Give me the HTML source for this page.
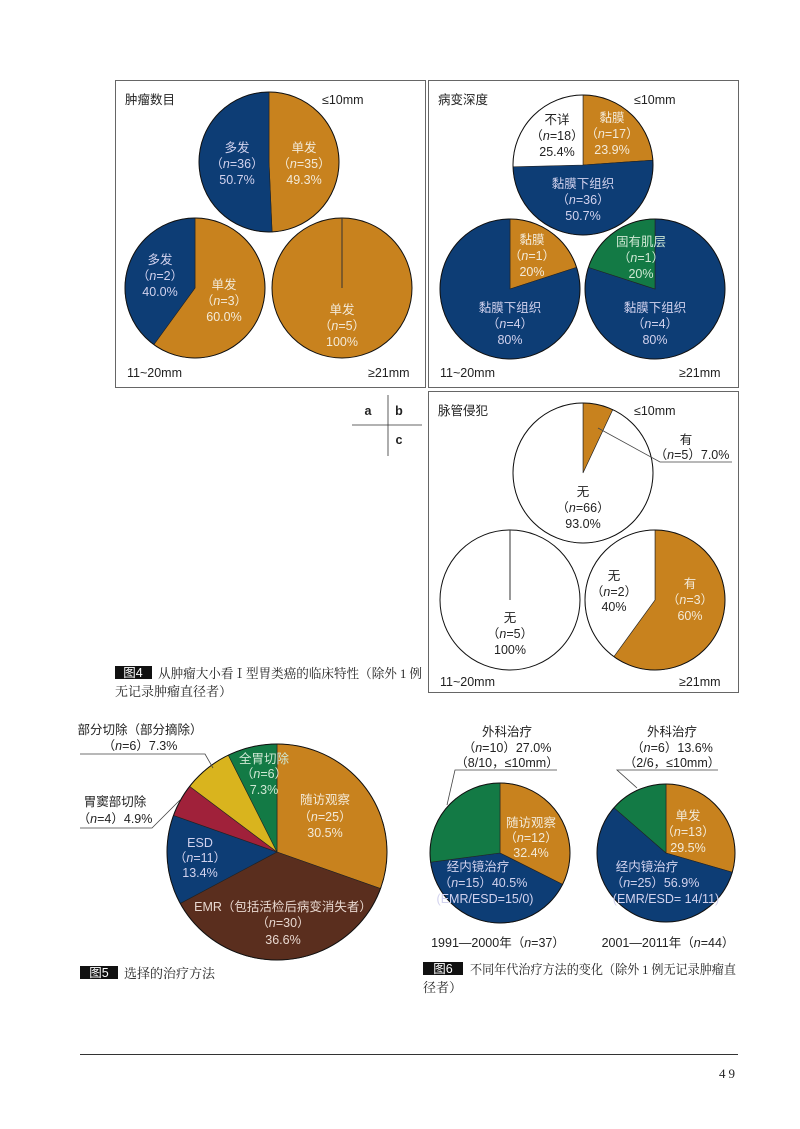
<!DOCTYPE html>
<html><head><meta charset="utf-8">
<style>
html,body{margin:0;padding:0;background:#fff;}
svg{display:block;}
text{font-family:"Liberation Sans","Noto Sans CJK SC",sans-serif;font-size:12.5px;}
.c{text-anchor:middle;}
.w{fill:#f3ead8;}
.l{fill:#d2d2ee;}
.k{fill:#222;}
.cap{font-family:"Liberation Serif","Noto Serif CJK SC",serif;font-size:13px;fill:#222;}
</style></head><body>
<svg id="s" width="800" height="1129" viewBox="0 0 800 1129" xmlns="http://www.w3.org/2000/svg">
<g id="pies"></g>
<rect x="115.5" y="80.5" width="310" height="307" fill="none" stroke="#666" stroke-width="1"/>
<rect x="428.5" y="80.5" width="310" height="307" fill="none" stroke="#666" stroke-width="1"/>
<rect x="428.5" y="391.5" width="310" height="301" fill="none" stroke="#666" stroke-width="1"/>

<text x="125" y="104" class="k" font-size="13">肿瘤数目</text>
<text x="322" y="104" class="k" font-size="13">≤10mm</text>
<text x="127" y="377" class="k" font-size="13">11~20mm</text>
<text x="368" y="377" class="k" font-size="13">≥21mm</text>
<text x="237" y="152" class="c l">多发</text>
<text x="237" y="168" class="c l">（<tspan font-style="italic">n</tspan>=36）</text>
<text x="237" y="184" class="c l">50.7%</text>
<text x="304" y="152" class="c w">单发</text>
<text x="304" y="168" class="c w">（<tspan font-style="italic">n</tspan>=35）</text>
<text x="304" y="184" class="c w">49.3%</text>
<text x="160" y="264" class="c l">多发</text>
<text x="160" y="280" class="c l">（<tspan font-style="italic">n</tspan>=2）</text>
<text x="160" y="296" class="c l">40.0%</text>
<text x="224" y="289" class="c w">单发</text>
<text x="224" y="305" class="c w">（<tspan font-style="italic">n</tspan>=3）</text>
<text x="224" y="321" class="c w">60.0%</text>
<text x="342" y="314" class="c w">单发</text>
<text x="342" y="330" class="c w">（<tspan font-style="italic">n</tspan>=5）</text>
<text x="342" y="346" class="c w">100%</text>

<text x="438" y="104" class="k" font-size="13">病变深度</text>
<text x="634" y="104" class="k" font-size="13">≤10mm</text>
<text x="440" y="377" class="k" font-size="13">11~20mm</text>
<text x="679" y="377" class="k" font-size="13">≥21mm</text>
<text x="557" y="124" class="c k">不详</text>
<text x="557" y="140" class="c k">（<tspan font-style="italic">n</tspan>=18）</text>
<text x="557" y="156" class="c k">25.4%</text>
<text x="612" y="122" class="c w">黏膜</text>
<text x="612" y="138" class="c w">（<tspan font-style="italic">n</tspan>=17）</text>
<text x="612" y="154" class="c w">23.9%</text>
<text x="583" y="188" class="c l">黏膜下组织</text>
<text x="583" y="204" class="c l">（<tspan font-style="italic">n</tspan>=36）</text>
<text x="583" y="220" class="c l">50.7%</text>
<text x="532" y="244" class="c w">黏膜</text>
<text x="532" y="260" class="c w">（<tspan font-style="italic">n</tspan>=1）</text>
<text x="532" y="276" class="c w">20%</text>
<text x="510" y="312" class="c l">黏膜下组织</text>
<text x="510" y="328" class="c l">（<tspan font-style="italic">n</tspan>=4）</text>
<text x="510" y="344" class="c l">80%</text>
<text x="641" y="246" class="c" fill="#cfe8d4">固有肌层</text>
<text x="641" y="262" class="c" fill="#cfe8d4">（<tspan font-style="italic">n</tspan>=1）</text>
<text x="641" y="278" class="c" fill="#cfe8d4">20%</text>
<text x="655" y="312" class="c l">黏膜下组织</text>
<text x="655" y="328" class="c l">（<tspan font-style="italic">n</tspan>=4）</text>
<text x="655" y="344" class="c l">80%</text>

<text x="438" y="415" class="k" font-size="13">脉管侵犯</text>
<text x="634" y="415" class="k" font-size="13">≤10mm</text>
<text x="440" y="686" class="k" font-size="13">11~20mm</text>
<text x="679" y="686" class="k" font-size="13">≥21mm</text>
<polyline points="598,428 660,462 732,462" fill="none" stroke="#444" stroke-width="0.8"/>
<text x="686" y="444" class="c k">有</text>
<text x="692" y="459" class="c k">（<tspan font-style="italic">n</tspan>=5）7.0%</text>
<text x="583" y="496" class="c k">无</text>
<text x="583" y="512" class="c k">（<tspan font-style="italic">n</tspan>=66）</text>
<text x="583" y="528" class="c k">93.0%</text>
<text x="510" y="622" class="c k">无</text>
<text x="510" y="638" class="c k">（<tspan font-style="italic">n</tspan>=5）</text>
<text x="510" y="654" class="c k">100%</text>
<text x="614" y="580" class="c k">无</text>
<text x="614" y="596" class="c k">（<tspan font-style="italic">n</tspan>=2）</text>
<text x="614" y="611" class="c k">40%</text>
<text x="690" y="588" class="c w">有</text>
<text x="690" y="604" class="c w">（<tspan font-style="italic">n</tspan>=3）</text>
<text x="690" y="620" class="c w">60%</text>

<line x1="388" y1="395" x2="388" y2="456" stroke="#333" stroke-width="0.8"/>
<line x1="352" y1="425" x2="422" y2="425" stroke="#333" stroke-width="0.8"/>
<text x="368" y="415" class="c k" font-size="10" font-weight="bold">a</text>
<text x="399" y="415" class="c k" font-size="10" font-weight="bold">b</text>
<text x="399" y="444" class="c k" font-size="10" font-weight="bold">c</text>

<rect x="115" y="666" width="37" height="13" fill="#111"/>
<text x="133" y="677" class="c" fill="#fff" font-size="11">图4</text>
<text x="158" y="678" class="cap" textLength="264" lengthAdjust="spacingAndGlyphs">从肿瘤大小看Ⅰ型胃类癌的临床特性（除外 1 例</text>
<text x="115" y="696" class="cap">无记录肿瘤直径者）</text>

<text x="140" y="734" class="c k">部分切除（部分摘除）</text>
<text x="140" y="750" class="c k">（<tspan font-style="italic">n</tspan>=6）7.3%</text>
<polyline points="80,754 205,754 213,768" fill="none" stroke="#444" stroke-width="0.8"/>
<text x="115" y="806" class="c k">胃窦部切除</text>
<text x="115" y="823" class="c k">（<tspan font-style="italic">n</tspan>=4）4.9%</text>
<polyline points="80,828 152,828 180,800" fill="none" stroke="#444" stroke-width="0.8"/>
<text x="264" y="763" class="c" fill="#cfe8d4">全胃切除</text>
<text x="264" y="778" class="c" fill="#cfe8d4">（<tspan font-style="italic">n</tspan>=6）</text>
<text x="264" y="794" class="c" fill="#cfe8d4">7.3%</text>
<text x="325" y="804" class="c w">随访观察</text>
<text x="325" y="821" class="c w">（<tspan font-style="italic">n</tspan>=25）</text>
<text x="325" y="837" class="c w">30.5%</text>
<text x="200" y="847" class="c l">ESD</text>
<text x="200" y="862" class="c l">（<tspan font-style="italic">n</tspan>=11）</text>
<text x="200" y="877" class="c l">13.4%</text>
<text x="283" y="911" class="c" fill="#e8d8d0">EMR（包括活检后病变消失者）</text>
<text x="283" y="927" class="c" fill="#e8d8d0">（<tspan font-style="italic">n</tspan>=30）</text>
<text x="283" y="944" class="c" fill="#e8d8d0">36.6%</text>
<rect x="80" y="966" width="38" height="13" fill="#111"/>
<text x="99" y="977" class="c" fill="#fff" font-size="11">图5</text>
<text x="124" y="978" class="cap">选择的治疗方法</text>

<text x="507" y="736" class="c k">外科治疗</text>
<text x="507" y="752" class="c k">（<tspan font-style="italic">n</tspan>=10）27.0%</text>
<text x="507" y="767" class="c k">（8/10，≤10mm）</text>
<polyline points="557,770 455,770 447,805" fill="none" stroke="#444" stroke-width="0.8"/>
<text x="672" y="736" class="c k">外科治疗</text>
<text x="672" y="752" class="c k">（<tspan font-style="italic">n</tspan>=6）13.6%</text>
<text x="672" y="767" class="c k">（2/6，≤10mm）</text>
<polyline points="718,770 617,770 637,788" fill="none" stroke="#444" stroke-width="0.8"/>
<text x="531" y="827" class="c w">随访观察</text>
<text x="531" y="842" class="c w">（<tspan font-style="italic">n</tspan>=12）</text>
<text x="531" y="857" class="c w">32.4%</text>
<text x="478" y="871" class="c l">经内镜治疗</text>
<text x="483" y="887" class="c l">（<tspan font-style="italic">n</tspan>=15）40.5%</text>
<text x="485" y="903" class="c l">(EMR/ESD=15/0)</text>
<text x="688" y="820" class="c w">单发</text>
<text x="688" y="836" class="c w">（<tspan font-style="italic">n</tspan>=13）</text>
<text x="688" y="852" class="c w">29.5%</text>
<text x="647" y="871" class="c l">经内镜治疗</text>
<text x="655" y="887" class="c l">（<tspan font-style="italic">n</tspan>=25）56.9%</text>
<text x="666" y="903" class="c l">(EMR/ESD= 14/11)</text>
<text x="498" y="947" class="c k" font-size="13">1991—2000年（<tspan font-style="italic">n</tspan>=37）</text>
<text x="668" y="947" class="c k" font-size="13">2001—2011年（<tspan font-style="italic">n</tspan>=44）</text>
<rect x="423" y="962" width="40" height="13" fill="#111"/>
<text x="443" y="973" class="c" fill="#fff" font-size="11">图6</text>
<text x="470" y="974" class="cap" textLength="266" lengthAdjust="spacingAndGlyphs">不同年代治疗方法的变化（除外 1 例无记录肿瘤直</text>
<text x="423" y="992" class="cap">径者）</text>

<line x1="80" y1="1054.5" x2="738" y2="1054.5" stroke="#333" stroke-width="1"/>
<text x="738" y="1078" class="cap" text-anchor="end" font-size="14" letter-spacing="3">49</text>
</svg>
<script>
var O="#C8821E",B="#0D3D75",G="#137A45",BR="#5A2E1E",R="#A0213A",Y="#D9B41E",W="#ffffff";
var g=document.getElementById("pies"),NS="http://www.w3.org/2000/svg";
function el(t,a){var e=document.createElementNS(NS,t);for(var k in a)e.setAttribute(k,a[k]);g.appendChild(e);return e;}
function pt(cx,cy,rx,ry,a){var t=a*Math.PI/180;return [cx+rx*Math.sin(t),cy-ry*Math.cos(t)];}
function pie(cx,cy,r,sl,ry,line){ry=ry||r;var a=0;
 sl.forEach(function(s){var b=a+s[0]*3.6;
  if(s[0]>=100){el("ellipse",{cx:cx,cy:cy,rx:r,ry:ry,fill:s[1]});}
  else{var p=pt(cx,cy,r,ry,a),q=pt(cx,cy,r,ry,b);
  el("path",{d:"M"+cx+","+cy+"L"+p[0]+","+p[1]+"A"+r+","+ry+" 0 "+((b-a)>180?1:0)+" 1 "+q[0]+","+q[1]+"Z",fill:s[1],stroke:"#222","stroke-width":"0.6"});}
  a=b;});
 el("ellipse",{cx:cx,cy:cy,rx:r,ry:ry,fill:"none",stroke:"#111","stroke-width":"1"});
 if(line)el("line",{x1:cx,y1:cy-ry,x2:cx,y2:cy,stroke:"#333","stroke-width":"1"});
}
pie(269,162,70,[[49.3,O],[50.7,B]]);
pie(195,288,70,[[60,O],[40,B]]);
pie(342,288,70,[[100,O]],0,1);
pie(583,165,70,[[23.9,O],[50.7,B],[25.4,W]]);
pie(510,289,70,[[20,O],[80,B]]);
pie(655,289,70,[[80,B],[20,G]]);
pie(583,473,70,[[7,O],[93,W]]);
pie(510,600,70,[[100,W]],0,1);
pie(655,600,70,[[60,O],[40,W]]);
pie(277,852,110,[[30.5,O],[36.6,BR],[13.4,B],[4.9,R],[7.3,Y],[7.3,G]],108);
pie(500,853,70,[[32.4,O],[40.5,B],[27.1,G]]);
pie(666,853,69,[[29.5,O],[56.9,B],[13.6,G]]);
</script>
</body></html>
